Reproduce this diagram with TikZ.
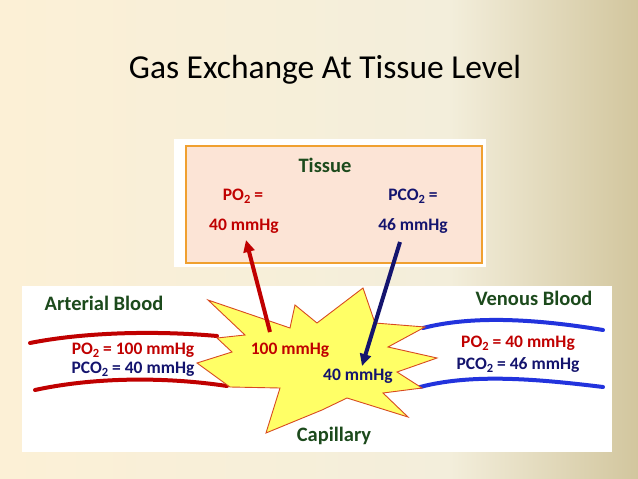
\documentclass[tikz,border=0pt]{standalone}
\usepackage{fontspec}
\setmainfont{Carlito}
\usetikzlibrary{arrows.meta}
\definecolor{bgL}{HTML}{FCF0D6}
\definecolor{bgM}{HTML}{F3EEDB}
\definecolor{bgR}{HTML}{D2C69E}
\definecolor{tred}{HTML}{C00000}
\definecolor{tnavy}{HTML}{14146E}
\definecolor{tgreen}{HTML}{1C4A1C}
\definecolor{peach}{HTML}{FCE4D6}
\definecolor{orng}{HTML}{F0A030}
\definecolor{vblue}{HTML}{2233DD}
\definecolor{staryel}{HTML}{FFFF66}
\definecolor{staredge}{HTML}{D84A20}
\newcommand{\lowtwo}{\raisebox{-0.35ex}{\fontsize{12.5}{13}\selectfont 2}}
\tikzset{
  lbl/.style={font=\bfseries\fontsize{17.5}{19}\selectfont, inner sep=0pt},
  head/.style={font=\bfseries\fontsize{20.5}{22}\selectfont, text=tgreen, inner sep=0pt},
  artery/.style={draw=tred, line width=4pt, line cap=round},
  vein/.style={draw=vblue, line width=4pt, line cap=round},
  flow/.style={line width=4pt, -{Triangle[length=12pt,width=11pt]}},
}
\begin{document}
\begin{tikzpicture}[x=1pt,y=-1pt]
\useasboundingbox (0,0) rectangle (638,479);
% background
\shade[left color=bgL, right color=bgM] (0,0) rectangle (450,479);
\shade[left color=bgM, right color=bgR] (450,0) rectangle (638,479);
% white panels
\fill[white] (174,139) rectangle (486,267);
\fill[white] (22,286) rectangle (612,452);
% title
\node[font=\fontsize{33.5}{36}\selectfont, inner sep=0pt] (title) at (325,70) {Gas Exchange At Tissue Level};
% tissue box
\node[draw=orng, line width=1.5pt, fill=peach, minimum width=296pt, minimum height=117pt, inner sep=0pt] (tissue) at (334,204.5) {};
\node[head] (tlab) at (325,165) {Tissue};
\node[lbl, text=tred] (tpo) at (243,196) {PO\lowtwo{} =};
\node[lbl, text=tred] (tpov) at (244,226) {40 mmHg};
\node[lbl, text=tnavy] (tpco) at (413,196) {PCO\lowtwo{} =};
\node[lbl, text=tnavy] (tpcov) at (413,226) {46 mmHg};
% vessels
\draw[artery] (30,343) .. controls (80,333) and (150,330) .. (217,336);
\draw[artery] (35,390) .. controls (90,378) and (160,376) .. (227,386);
\draw[vein] (423,328) .. controls (470,316) and (530,318) .. (603,330);
\draw[vein] (420,387) .. controls (470,374) and (530,378) .. (603,387);
% capillary star
\draw[fill=staryel, draw=staredge, line width=0.9pt, line join=miter]
  (208,300) -- (290,328) -- (295,305) -- (317,323) -- (363,288) -- (375,323)
  -- (425,327) -- (388,347) -- (437,358) -- (397,372) -- (422,388) -- (383,393)
  -- (408,417) -- (347,398) -- (322,410) -- (266,433) -- (280,388) -- (230,387)
  -- (197,363) -- (232,352) -- (217,338) -- (245,335) -- cycle;
% labels
\node[head] (art) at (104,303) {Arterial Blood};
\node[head] (ven) at (534,298) {Venous Blood};
\node[lbl, text=tred] (apo) at (133,350) {PO\lowtwo{} = 100 mmHg};
\node[lbl, text=tnavy] (apco) at (133,369) {PCO\lowtwo{} = 40 mmHg};
\node[lbl, text=tred] (vpo) at (518,343) {PO\lowtwo{} = 40 mmHg};
\node[lbl, text=tnavy] (vpco) at (518,365) {PCO\lowtwo{} = 46 mmHg};
\node[lbl, text=tred] (c100) at (290,350) {100 mmHg};
\node[lbl, text=tnavy] (c40) at (358,376) {40 mmHg};
\node[head] (cap) at (334,436) {Capillary};
% arrows
\coordinate (rs) at (270,332);
\coordinate (re) at (246,240);
\coordinate (ns) at (400,242);
\coordinate (ne) at (362,366);
\draw[flow, draw=tred, fill=tred] (rs) -- (re);
\draw[flow, draw=tnavy, fill=tnavy] (ns) -- (ne);
\end{tikzpicture}
\end{document}
